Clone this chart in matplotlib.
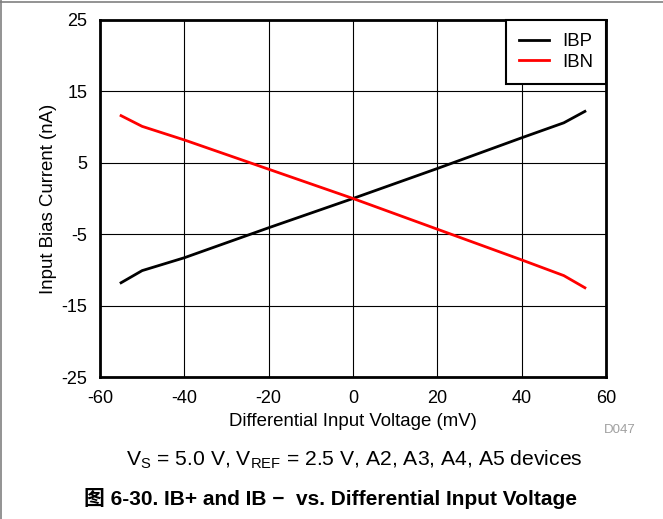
import matplotlib
matplotlib.use('Agg')
import matplotlib.pyplot as plt
from matplotlib.lines import Line2D

plt.rcParams['font.family'] = ['Liberation Sans', 'Noto Sans CJK SC', 'DejaVu Sans']
plt.rcParams['mathtext.fontset'] = 'custom'
plt.rcParams['mathtext.rm'] = 'Liberation Sans'
plt.rcParams['mathtext.it'] = 'Liberation Sans'
plt.rcParams['axes.unicode_minus'] = False

# data
vdiff = [-55, -50, -40, -30, -20, -10, 0, 10, 20, 30, 40, 50, 55]
ibp = [-11.8, -10.1, -8.3, -6.2, -4.1, -2.05, 0.0, 2.1, 4.2, 6.35, 8.5, 10.6, 12.2]
ibn = [11.6, 10.1, 8.2, 6.15, 4.1, 2.05, 0.0, -2.15, -4.3, -6.45, -8.6, -10.8, -12.5]

xticks = [-60, -40, -20, 0, 20, 40, 60]
yticks = [-25, -15, -5, 5, 15, 25]

fig = plt.figure(figsize=(6.63, 5.19), dpi=100)
ax = fig.add_axes([0.1508, 0.2736, 0.7632, 0.6879])

ax.plot(vdiff, ibp, color='black', lw=2, label='IBP')
ax.plot(vdiff, ibn, color='#ff0000', lw=2, label='IBN')

ax.set_xlim(-60, 60)
ax.set_ylim(-25, 25)
ax.set_xticks(xticks)
ax.set_yticks(yticks)
ax.grid(True, color='black', lw=0.8)
ax.tick_params(length=0, pad=9, labelsize=13)
for s in ax.spines.values():
    s.set_linewidth(2)

ax.set_xlabel('Differential Input Voltage (mV)', fontsize=13.4, labelpad=5)
ax.set_ylabel('Input Bias Current (nA)', fontsize=13.4, labelpad=3)

leg = ax.legend(loc='upper right', bbox_to_anchor=(1, 1), borderaxespad=0,
                fontsize=13.4, fancybox=False, framealpha=1, edgecolor='black',
                handlelength=1.6, handletextpad=0.7, labelspacing=0.2,
                borderpad=0.7)
leg.get_frame().set_linewidth(1.5)

fig.text(0.935, 0.166, 'D047', color='#a0a0a0', fontsize=9.5, ha='center')
fig.text(0.535, 0.103, r'V$_\mathrm{S}$ = 5.0 V, V$_\mathrm{REF}$ = 2.5 V, A2, A3, A4, A5 devices',
         fontsize=15.2, ha='center')
fig.text(0.498, 0.027, '图 6-30. IB+ and IB \u2212  vs. Differential Input Voltage',
         fontsize=15, fontweight='bold', ha='center')

# page frame lines at the top and left edges
fig.add_artist(Line2D([0, 1], [0.996, 0.996], color='#808080', lw=1.2))
fig.add_artist(Line2D([0.001, 0.001], [0, 1], color='#808080', lw=1.2))

fig.savefig('out.png', dpi=100)
